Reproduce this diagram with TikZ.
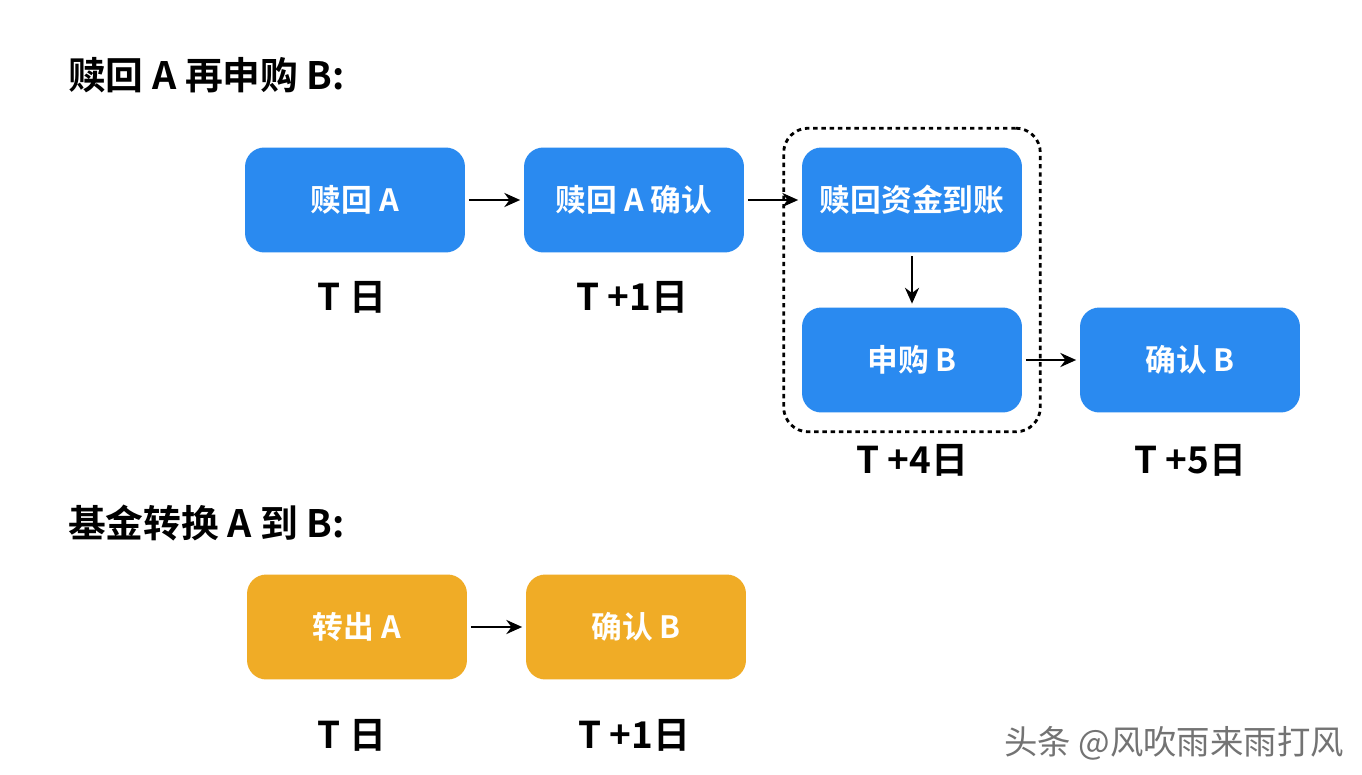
\documentclass[tikz,border=0pt]{standalone}
\usepackage{fontspec}
\setmainfont{Noto Sans CJK SC}[BoldFont={Noto Sans CJK SC Bold}]
\usepackage{tikz}
\usetikzlibrary{positioning,fit,arrows.meta}
\definecolor{stepblue}{RGB}{42,138,240}
\definecolor{steporange}{RGB}{240,172,38}
\tikzset{
    stepbox/.style={
        rounded corners=11pt,
        minimum width=4.4cm,
        minimum height=2.1cm,
        fill=stepblue,
        text=white,
        font=\bfseries\fontsize{17.5}{20}\selectfont
    },
    switchbox/.style={
        stepbox,
        fill=steporange
    },
    daylabel/.style={
        font=\bfseries\fontsize{21}{24}\selectfont
    },
    heading/.style={
        anchor=west,
        font=\bfseries\fontsize{21.5}{25}\selectfont
    },
    flow/.style={
        -{Stealth[length=9pt,width=8pt]},
        line width=1.5pt,
        shorten <=2pt,
        shorten >=2pt
    }
}

\begin{document}
\begin{tikzpicture}[x=0.02cm,y=-0.02cm]
    \useasboundingbox[fill=white] (0,0) rectangle (1362,774);

    %% redeem A, then buy B
    \node (T1) [heading] at (62,75) {赎回 A 再申购 B:};

    \node (RA) [stepbox] at (355,200) {赎回 A};
    \node (RC) [stepbox] at (634,200) {赎回 A 确认};
    \node (RF) [stepbox] at (912,200) {赎回资金到账};
    \node (SB) [stepbox] at (912,360) {申购 B};
    \node (CB) [stepbox] at (1190,360) {确认 B};

    \node (G1) [draw,dash pattern=on 2.5pt off 2.2pt,line width=1.6pt,rounded corners=14pt,
        inner xsep=0.36cm,inner ysep=0.38cm,fit=(RF)(SB)] {};

    \draw[flow] (RA) -- (RC);
    \draw[flow] (RC) -- (RF);
    \draw[flow] (RF) -- (SB);
    \draw[flow] (SB) -- (CB);

    \node (D1) [daylabel] at (352,297) {T 日};
    \node (D2) [daylabel] at (632,297) {T +1日};
    \node (D3) [daylabel] at (912,460) {T +4日};
    \node (D4) [daylabel] at (1190,460) {T +5日};

    %% fund switch A to B
    \node (T2) [heading] at (62,523) {基金转换 A 到 B:};

    \node (XA) [switchbox] at (357,627) {转出 A};
    \node (XB) [switchbox] at (636,627) {确认 B};
    \draw[flow] (XA) -- (XB);

    \node (D5) [daylabel] at (352,735) {T 日};
    \node (D6) [daylabel] at (634,735) {T +1日};

    \node (WM) [text=black!55,anchor=east,font=\fontsize{19}{22}\selectfont] at (1350,743) {头条 @风吹雨来雨打风};
\end{tikzpicture}
\end{document}
